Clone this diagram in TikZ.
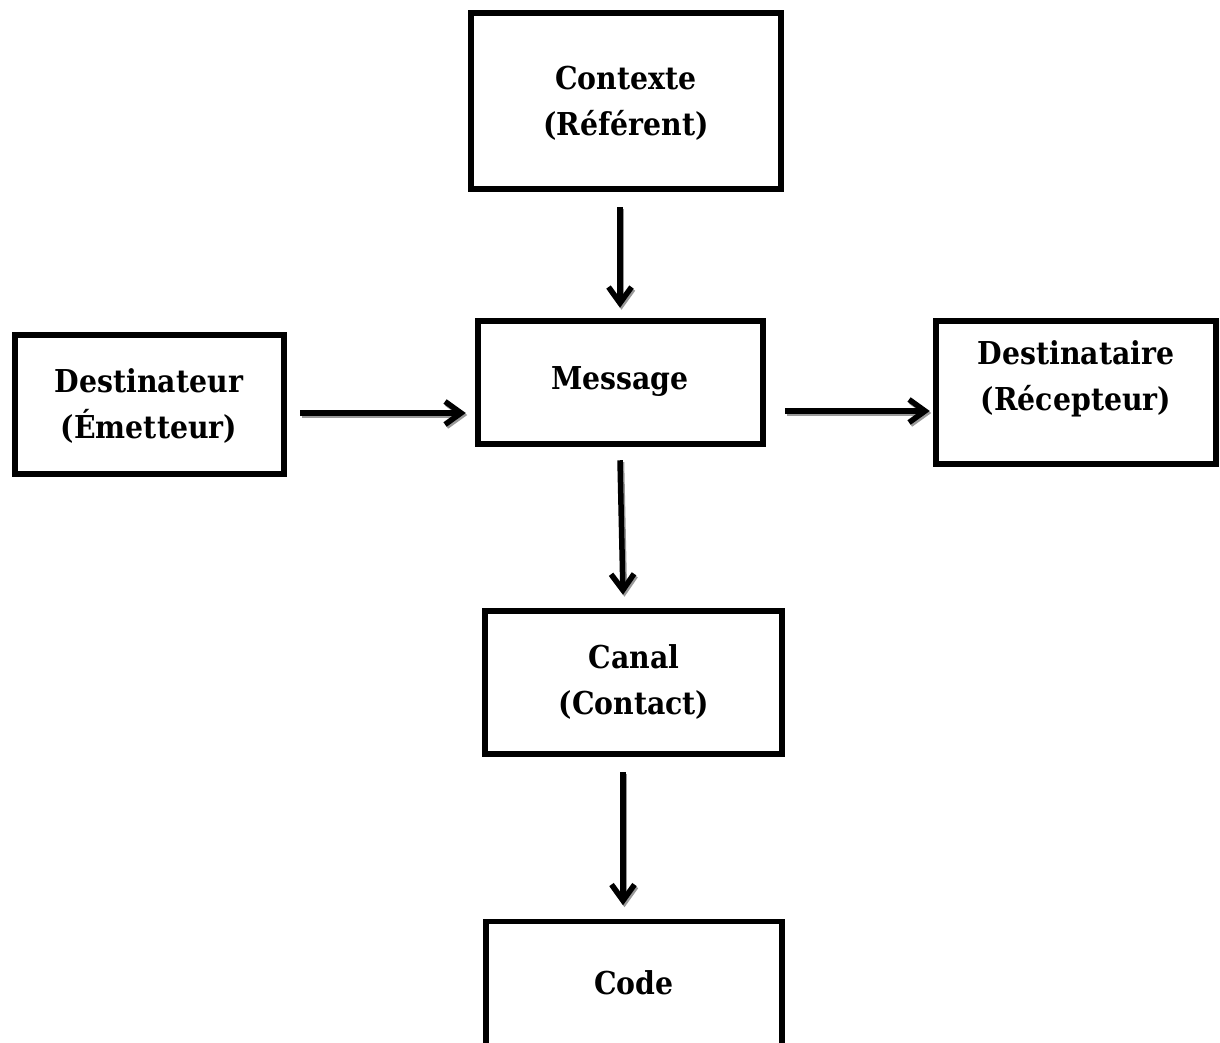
\documentclass[tikz,border=0pt]{standalone}
\usepackage{fontspec}
\setmainfont{DejaVu Serif Condensed}
\usetikzlibrary{arrows.meta,calc}
\begin{document}
\begin{tikzpicture}[x=1pt,y=-1pt,
  box/.style={draw=black,line width=5.5pt,rectangle,inner sep=0pt},
  lbl/.style={align=center,inner sep=0pt,font=\bfseries\fontsize{31.5}{46}\selectfont},
  arr/.style={line width=5.5pt,-{Straight Barb[length=16pt,width=23pt]}},
  arrsh/.style={arr,draw=black!40,transform canvas={shift={(1.5pt,-2pt)}}}
]
\useasboundingbox (0,0) rectangle (1220,1043);
% boxes
\node[box,minimum width=310pt,minimum height=176pt] (ctx) at (626,101) {};
\node[box,minimum width=269pt,minimum height=139pt] (dst) at (149.5,404.5) {};
\node[box,minimum width=285pt,minimum height=123pt] (msg) at (620.5,382.5) {};
\node[box,minimum width=280pt,minimum height=143pt] (rcv) at (1076,392.5) {};
\node[box,minimum width=297pt,minimum height=143pt] (can) at (633.5,682.5) {};
\node[box,minimum width=296pt,minimum height=200pt] (code) at (634,1021.5) {};
% labels
\node[lbl] (tctx) at (626,103) {Contexte\\(Référent)};
\node[lbl] (tdst) at (149,406) {Destinateur\\(Émetteur)};
\node[lbl] (tmsg) at (620,382) {Message};
\node[lbl] (trcv) at (1076,379) {Destinataire\\(Récepteur)};
\node[lbl] (tcan) at (634,682) {Canal\\(Contact)};
\node[lbl] (tcode) at (634,983) {Code};
% arrows (shadow then arrow)
\foreach \s in {arrsh,arr}{
  \draw[\s] ($(ctx.south)+(-6,15.5)$) -- ($(msg.north)+(-0.5,-10.5)$);
  \draw[\s] ($(dst.east)+(13.5,8.5)$) -- ($(msg.west)+(-9.5,30.5)$);
  \draw[\s] ($(msg.east)+(19.5,28.5)$) -- ($(rcv.west)+(-3.5,18.5)$);
  \draw[\s] ($(msg.south)+(-0.5,13.5)$) -- ($(can.north)+(-10.5,-13.5)$);
  \draw[\s] ($(can.south)+(-10.5,15.5)$) -- ($(code.north)+(-11,-13.5)$);
}
\end{tikzpicture}
\end{document}
